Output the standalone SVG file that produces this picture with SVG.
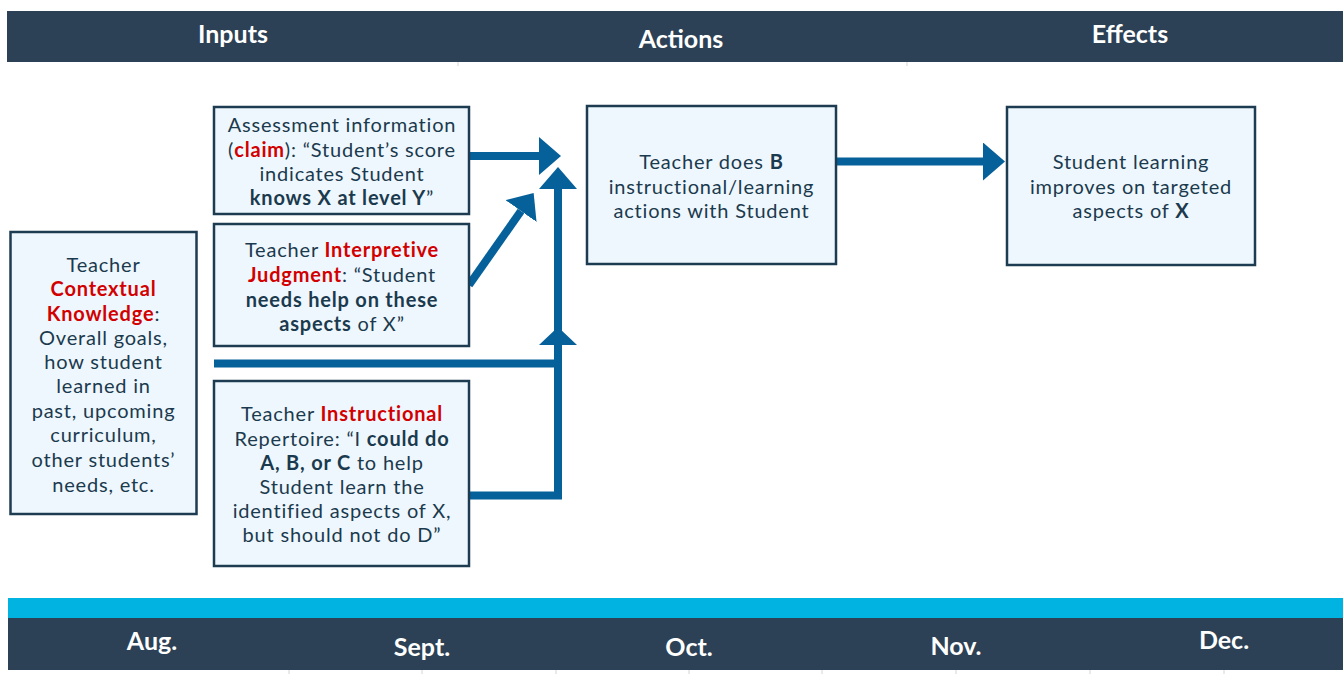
<svg xmlns="http://www.w3.org/2000/svg" width="1343" height="694" viewBox="0 0 1343 694">
<defs>
<style>
.band{fill:#2c4155}
.hd{font-family:Lato,"Open Sans",sans-serif;font-weight:bold;font-size:25px;fill:#ffffff;text-anchor:middle}
.box{fill:#eef7fd;stroke:#1d3c51;stroke-width:2.5}
.t{font-family:Lato,"Open Sans",sans-serif;font-size:20px;letter-spacing:0.8px;fill:#1b3a4e;text-anchor:middle}
.b{font-weight:bold}
.r{font-weight:bold;fill:#d20000}
.con{fill:none;stroke:#06609a;stroke-width:8}
.tick{stroke:#d0d4d8;stroke-width:1}
</style>
<marker id="head" viewBox="0 0 22 38" refX="0" refY="19" markerWidth="22" markerHeight="38" markerUnits="userSpaceOnUse" orient="auto">
<path d="M0,0 L22,19 L0,38 Z" fill="#06609a"/>
</marker>
<marker id="headS" viewBox="0 0 18 38" refX="0" refY="19" markerWidth="18" markerHeight="38" markerUnits="userSpaceOnUse" orient="auto">
<path d="M0,0 L18,19 L0,38 Z" fill="#06609a"/>
</marker>
</defs>
<rect width="1343" height="694" fill="#ffffff"/>

<g id="header">
<rect class="band" x="7" y="11" width="1336" height="51"/>
<line class="tick" x1="458" y1="62" x2="458" y2="66"/>
<line class="tick" x1="907" y1="62" x2="907" y2="66"/>
<text class="hd" x="233" y="43">Inputs</text>
<text class="hd" x="681" y="48">Actions</text>
<text class="hd" x="1130" y="43">Effects</text>
</g>

<g id="connectors">
<path class="con" d="M469,156 H539" marker-end="url(#head)"/>
<path class="con" d="M469,285 L521,211" marker-end="url(#head)"/>
<path class="con" d="M469,495.5 H558 V345" marker-end="url(#headS)"/>
<path class="con" d="M214,363.5 H558 V189" marker-end="url(#head)"/>
<path class="con" d="M836,161.5 H983" marker-end="url(#head)"/>
</g>

<g id="assessment">
<rect class="box" x="214" y="107" width="255" height="107"/>
<text class="t" x="342" y="132">Assessment information</text>
<text class="t" x="342" y="157">(<tspan class="r">claim</tspan>): “Student’s score</text>
<text class="t" x="342" y="181">indicates Student</text>
<text class="t" x="342" y="205"><tspan class="b">knows X at level Y</tspan>”</text>
</g>

<g id="interpretive">
<rect class="box" x="214" y="224" width="255" height="122"/>
<text class="t" x="342" y="257">Teacher <tspan class="r">Interpretive</tspan></text>
<text class="t" x="342" y="282"><tspan class="r">Judgment</tspan>: “Student</text>
<text class="t" x="342" y="307"><tspan class="b">needs help on these</tspan></text>
<text class="t" x="342" y="331"><tspan class="b">aspects</tspan> of X”</text>
</g>

<g id="contextual">
<rect class="box" x="10.5" y="232" width="186" height="282"/>
<text class="t" x="103.5" y="272">Teacher</text>
<text class="t" x="103.5" y="296"><tspan class="r">Contextual</tspan></text>
<text class="t" x="103.5" y="321"><tspan class="r">Knowledge</tspan>:</text>
<text class="t" x="103.5" y="345">Overall goals,</text>
<text class="t" x="103.5" y="369">how student</text>
<text class="t" x="103.5" y="393">learned in</text>
<text class="t" x="103.5" y="418">past, upcoming</text>
<text class="t" x="103.5" y="442">curriculum,</text>
<text class="t" x="103.5" y="467">other students’</text>
<text class="t" x="103.5" y="492">needs, etc.</text>
</g>

<g id="instructional">
<rect class="box" x="214" y="381" width="255" height="185"/>
<text class="t" x="342" y="421">Teacher <tspan class="r">Instructional</tspan></text>
<text class="t" x="342" y="446">Repertoire: “I <tspan class="b">could do</tspan></text>
<text class="t" x="342" y="470"><tspan class="b">A, B, or C</tspan> to help</text>
<text class="t" x="342" y="494">Student learn the</text>
<text class="t" x="342" y="518">identified aspects of X,</text>
<text class="t" x="342" y="542">but should not do D”</text>
</g>

<g id="action">
<rect class="box" x="587" y="106" width="249" height="158"/>
<text class="t" x="711.5" y="169">Teacher does <tspan class="b">B</tspan></text>
<text class="t" x="711.5" y="194">instructional/learning</text>
<text class="t" x="711.5" y="218">actions with Student</text>
</g>

<g id="effect">
<rect class="box" x="1007" y="107" width="248" height="158"/>
<text class="t" x="1131" y="169">Student learning</text>
<text class="t" x="1131" y="194">improves on targeted</text>
<text class="t" x="1131" y="218">aspects of <tspan class="b">X</tspan></text>
</g>

<g id="timeline">
<rect x="8" y="598" width="1335" height="20" fill="#00b3e0"/>
<rect class="band" x="8" y="618" width="1335" height="52"/>
<line class="tick" x1="289" y1="670" x2="289" y2="674"/>
<line class="tick" x1="422" y1="670" x2="422" y2="674"/>
<line class="tick" x1="556" y1="670" x2="556" y2="674"/>
<line class="tick" x1="689" y1="670" x2="689" y2="674"/>
<line class="tick" x1="822" y1="670" x2="822" y2="674"/>
<line class="tick" x1="956" y1="670" x2="956" y2="674"/>
<line class="tick" x1="1090" y1="670" x2="1090" y2="674"/>
<line class="tick" x1="1224" y1="670" x2="1224" y2="674"/>
<text class="hd" x="152" y="650">Aug.</text>
<text class="hd" x="422" y="656">Sept.</text>
<text class="hd" x="689" y="656">Oct.</text>
<text class="hd" x="956" y="655">Nov.</text>
<text class="hd" x="1224" y="649">Dec.</text>
</g>
</svg>
